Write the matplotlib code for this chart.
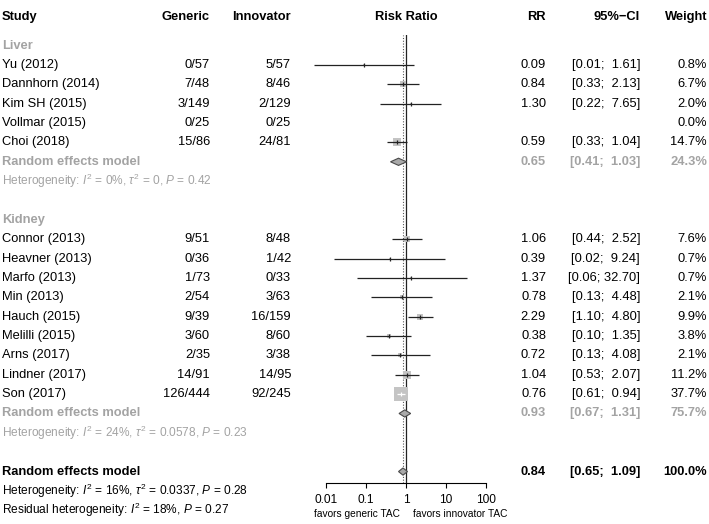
import numpy as np
import matplotlib
matplotlib.use("Agg")
import matplotlib.pyplot as plt
from matplotlib.patches import Polygon

plt.rcParams['font.family'] = ['Liberation Sans', 'DejaVu Sans']
plt.rcParams['mathtext.fontset'] = 'custom'
plt.rcParams['mathtext.rm'] = 'Liberation Sans'
plt.rcParams['mathtext.it'] = 'Liberation Sans:italic'
plt.rcParams['mathtext.bf'] = 'Liberation Sans:bold'

# ---------------- data ----------------
liver_studies = ["Yu (2012)", "Dannhorn (2014)", "Kim SH (2015)", "Vollmar (2015)", "Choi (2018)"]
liver_generic = ["0/57", "7/48", "3/149", "0/25", "15/86"]
liver_innov = ["5/57", "8/46", "2/129", "0/25", "24/81"]
liver_rr = [0.09, 0.84, 1.30, None, 0.59]
liver_lo = [0.0051, 0.33, 0.22, None, 0.33]
liver_hi = [1.61, 2.13, 7.65, None, 1.04]
liver_w = [0.8, 6.7, 2.0, 0.0, 14.7]
liver_re = (0.65, 0.41, 1.03, 24.3)
liver_het = r"Heterogeneity: $\mathit{I}^2$ = 0%, $\tau^2$ = 0, $\mathit{P}$ = 0.42"

kidney_studies = ["Connor (2013)", "Heavner (2013)", "Marfo (2013)", "Min (2013)", "Hauch (2015)",
                  "Melilli (2015)", "Arns (2017)", "Lindner (2017)", "Son (2017)"]
kidney_generic = ["9/51", "0/36", "1/73", "2/54", "9/39", "3/60", "2/35", "14/91", "126/444"]
kidney_innov = ["8/48", "1/42", "0/33", "3/63", "16/159", "8/60", "3/38", "14/95", "92/245"]
kidney_rr = [1.06, 0.39, 1.37, 0.78, 2.29, 0.38, 0.72, 1.04, 0.76]
kidney_lo = [0.44, 0.0163, 0.058, 0.13, 1.10, 0.10, 0.13, 0.53, 0.61]
kidney_hi = [2.52, 9.24, 32.70, 4.48, 4.80, 1.35, 4.08, 2.07, 0.94]
kidney_w = [7.6, 0.7, 0.7, 2.1, 9.9, 3.8, 2.1, 11.2, 37.7]
kidney_re = (0.93, 0.67, 1.31, 75.7)
kidney_het = r"Heterogeneity: $\mathit{I}^2$ = 24%, $\tau^2$ = 0.0578, $\mathit{P}$ = 0.23"

overall_re = (0.84, 0.65, 1.09, 100.0)
overall_het = r"Heterogeneity: $\mathit{I}^2$ = 16%, $\tau^2$ = 0.0337, $\mathit{P}$ = 0.28"
resid_het = r"Residual heterogeneity: $\mathit{I}^2$ = 18%, $\mathit{P}$ = 0.27"

x_ticks = [0.01, 0.1, 1, 10, 100]
x_ticklabels = ["0.01", "0.1", "1", "10", "100"]

# ---------------- layout ----------------
W, H = 709, 524
fig = plt.figure(figsize=(W / 100, H / 100), dpi=100)
Y0, DY = 65.0, 19.36  # pixel y of row 0 and row spacing

def px2row(p):
    return (p - Y0) / DY

tax = fig.add_axes([0, 0, 1, 1])
tax.set_xlim(0, W)
tax.set_ylim(px2row(H), px2row(0))
tax.axis('off')

ax_l, ax_r, ax_t, ax_b = 326, 486, 35, 483
fax = fig.add_axes([ax_l / W, 1 - ax_b / H, (ax_r - ax_l) / W, (ax_b - ax_t) / H])
fax.set_xscale('log')
fax.set_xlim(0.01, 100)
fax.set_ylim(px2row(ax_b), px2row(ax_t))
fax.patch.set_alpha(0)
for s in ['top', 'left', 'right']:
    fax.spines[s].set_visible(False)
fax.spines['bottom'].set_linewidth(0.8)
fax.set_yticks([])
fax.set_xticks(x_ticks)
fax.set_xticklabels(x_ticklabels)
fax.xaxis.set_minor_locator(matplotlib.ticker.NullLocator())
fax.tick_params(axis='x', direction='out', length=3.6, width=0.8, labelsize=8.6, pad=4)

FS = 9.3
HFS = 8.55
GREY = '#a3a3a3'
X_STUDY, X_GEN, X_INN, X_RR, X_CI, X_W = 2, 210, 291, 546, 640, 707

def row_text(r, study, gen, inn, rr, lo, hi, w, color='black', weight='normal'):
    tax.text(X_STUDY, r, study, ha='left', va='center', fontsize=FS, color=color, fontweight=weight)
    if gen:
        tax.text(X_GEN, r, gen, ha='right', va='center', fontsize=FS, color=color, fontweight=weight)
    if inn:
        tax.text(X_INN, r, inn, ha='right', va='center', fontsize=FS, color=color, fontweight=weight)
    if rr is not None:
        tax.text(X_RR, r, f"{rr:.2f}", ha='right', va='center', fontsize=FS, color=color, fontweight=weight)
        tax.text(X_CI, r, f"[{lo:.2f}; {hi:5.2f}]", ha='right', va='center', fontsize=FS, color=color,
                 fontweight=weight)
    tax.text(X_W, r, f"{w:.1f}%", ha='right', va='center', fontsize=FS, color=color, fontweight=weight)

# header
hr = px2row(17)
for x, s, ha in [(X_STUDY, "Study", 'left'), (X_GEN, "Generic", 'right'), (X_INN, "Innovator", 'right'),
                 (406, "Risk Ratio", 'center'), (X_RR, "RR", 'right'), (X_CI, "95%\u2212CI", 'right'),
                 (X_W, "Weight", 'right')]:
    tax.text(x, hr, s, ha=ha, va='center', fontsize=FS, fontweight='bold')

SQ_K = 2.12  # px per sqrt(weight%)

def study_mark(r, rr, lo, hi, w):
    if rr is None or w <= 0:
        return
    side = SQ_K * np.sqrt(w)
    fax.scatter([rr], [r], marker='s', s=(side * 0.72) ** 2, color='#c4c4c4', lw=0, zorder=2, clip_on=False)
    lo_px = 40 * np.log10(lo / rr)
    hi_px = 40 * np.log10(hi / rr)
    inside = (-lo_px <= side / 2) and (hi_px <= side / 2)
    lc = 'white' if inside else '#222222'
    fax.plot([lo, hi], [r, r], color=lc, lw=0.9, zorder=3, clip_on=False, solid_capstyle='butt')
    fax.plot([rr], [r], marker='|', ms=3.2, mew=0.9, color=lc, zorder=4, clip_on=False)

def diamond(r, est, lo, hi):
    h = 3.6 / DY
    poly = Polygon([(lo, r), (est, r - h), (hi, r), (est, r + h)], closed=True,
                   facecolor='#a9a9a9', edgecolor='#4a4a4a', lw=0.8, zorder=5, clip_on=False)
    fax.add_patch(poly)

# reference lines
fax.axvline(1, color='#222222', lw=0.9, zorder=1)
fax.axvline(overall_re[0], color='#555555', lw=0.8, ls=(0, (1, 1.5)), zorder=1)

# Liver
r = -1
tax.text(X_STUDY, r, "Liver", ha='left', va='center', fontsize=FS, color=GREY, fontweight='bold')
for i, s in enumerate(liver_studies):
    rr_i = i
    row_text(rr_i, s, liver_generic[i], liver_innov[i], liver_rr[i], liver_lo[i], liver_hi[i], liver_w[i])
    study_mark(rr_i, liver_rr[i], liver_lo[i], liver_hi[i], liver_w[i])
r = len(liver_studies)
row_text(r, "Random effects model", None, None, liver_re[0], liver_re[1], liver_re[2], liver_re[3],
         color=GREY, weight='bold')
diamond(r, *liver_re[:3])
tax.text(X_STUDY, r + 1, liver_het, ha='left', va='center', fontsize=HFS, color=GREY)

# Kidney
base = r + 3
tax.text(X_STUDY, base, "Kidney", ha='left', va='center', fontsize=FS, color=GREY, fontweight='bold')
for i, s in enumerate(kidney_studies):
    rr_i = base + 1 + i
    row_text(rr_i, s, kidney_generic[i], kidney_innov[i], kidney_rr[i], kidney_lo[i], kidney_hi[i], kidney_w[i])
    study_mark(rr_i, kidney_rr[i], kidney_lo[i], kidney_hi[i], kidney_w[i])
r = base + 1 + len(kidney_studies)
row_text(r, "Random effects model", None, None, kidney_re[0], kidney_re[1], kidney_re[2], kidney_re[3],
         color=GREY, weight='bold')
diamond(r, *kidney_re[:3])
tax.text(X_STUDY, r + 1, kidney_het, ha='left', va='center', fontsize=HFS, color=GREY)

# Overall
r = r + 3
row_text(r, "Random effects model", None, None, overall_re[0], overall_re[1], overall_re[2], overall_re[3],
         color='black', weight='bold')
diamond(r, *overall_re[:3])
tax.text(X_STUDY, r + 1, overall_het, ha='left', va='center', fontsize=HFS, color='black')
tax.text(X_STUDY, r + 2, resid_het, ha='left', va='center', fontsize=HFS, color='black')

# favours labels
tax.text(400, px2row(514), "favors generic TAC", ha='right', va='center', fontsize=7.3)
tax.text(413, px2row(514), "favors innovator TAC", ha='left', va='center', fontsize=7.3)

fig.savefig("out.png", dpi=100)
